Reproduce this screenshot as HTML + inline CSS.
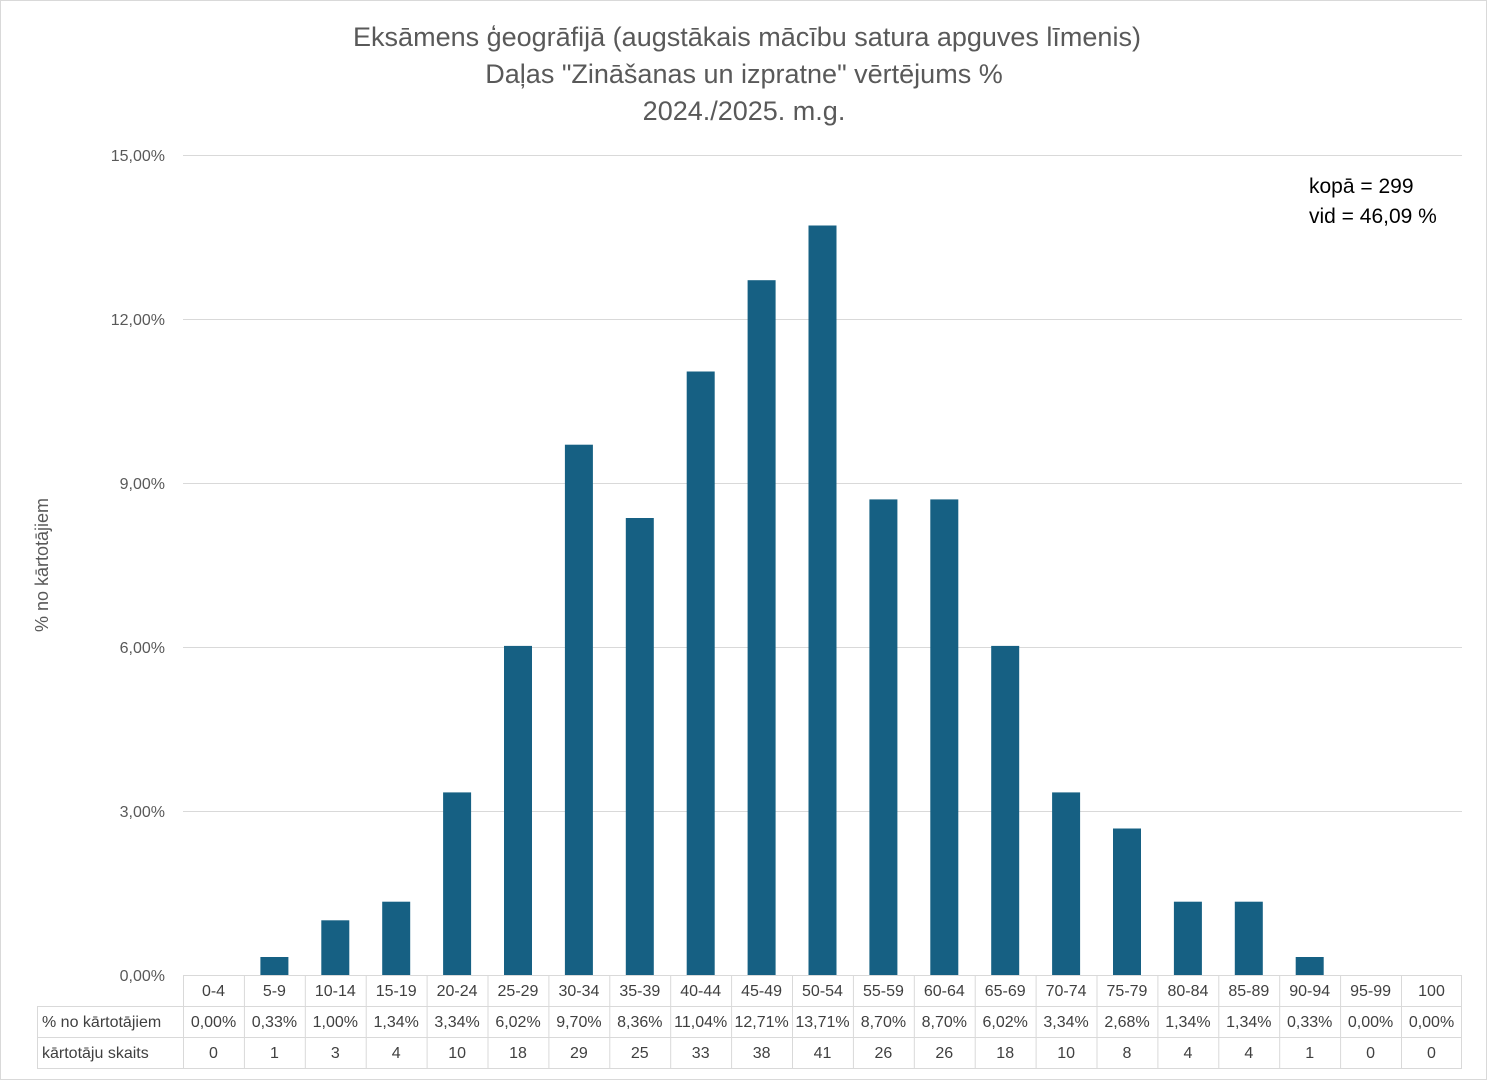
<!DOCTYPE html>
<html><head><meta charset="utf-8"><style>
html,body{margin:0;padding:0;background:#fff}
svg{display:block;font-family:"Liberation Sans",sans-serif}
</style></head><body>
<svg width="1487" height="1080" viewBox="0 0 1487 1080" xmlns="http://www.w3.org/2000/svg">
<rect x="0.5" y="0.5" width="1486" height="1079" fill="#fff" stroke="#d9d9d9"/>
<g font-size="27" fill="#595959" text-anchor="middle">
<text x="747" y="46">Eksāmens ģeogrāfijā (augstākais mācību satura apguves līmenis)</text>
<text x="744" y="83">Daļas "Zināšanas un izpratne" vērtējums %</text>
<text x="744" y="120">2024./2025. m.g.</text>
</g>
<g stroke="#d9d9d9" stroke-width="1">
<line x1="183" y1="155.5" x2="1462" y2="155.5"/>
<line x1="183" y1="319.5" x2="1462" y2="319.5"/>
<line x1="183" y1="483.5" x2="1462" y2="483.5"/>
<line x1="183" y1="647.5" x2="1462" y2="647.5"/>
<line x1="183" y1="811.5" x2="1462" y2="811.5"/>
</g>
<g font-size="16" fill="#595959" text-anchor="end">
<text x="165" y="161">15,00%</text>
<text x="165" y="325">12,00%</text>
<text x="165" y="489">9,00%</text>
<text x="165" y="653">6,00%</text>
<text x="165" y="817">3,00%</text>
<text x="165" y="981">0,00%</text>
</g>
<text transform="translate(48,565) rotate(-90)" font-size="18" fill="#595959" text-anchor="middle">% no kārtotājiem</text>
<g fill="#166083">
<rect x="260.4" y="957" width="28" height="18"/>
<rect x="321.3" y="920.3" width="28" height="54.7"/>
<rect x="382.2" y="901.7" width="28" height="73.3"/>
<rect x="443.1" y="792.4" width="28" height="182.6"/>
<rect x="504.0" y="645.9" width="28" height="329.1"/>
<rect x="564.9" y="444.7" width="28" height="530.3"/>
<rect x="625.8" y="518" width="28" height="457"/>
<rect x="686.7" y="371.5" width="28" height="603.5"/>
<rect x="747.6" y="280.2" width="28" height="694.8"/>
<rect x="808.5" y="225.5" width="28" height="749.5"/>
<rect x="869.4" y="499.4" width="28" height="475.6"/>
<rect x="930.3" y="499.4" width="28" height="475.6"/>
<rect x="991.2" y="645.9" width="28" height="329.1"/>
<rect x="1052.1" y="792.4" width="28" height="182.6"/>
<rect x="1113.0" y="828.5" width="28" height="146.5"/>
<rect x="1173.9" y="901.7" width="28" height="73.3"/>
<rect x="1234.8" y="901.7" width="28" height="73.3"/>
<rect x="1295.7" y="957" width="28" height="18"/>
</g>
<g font-size="21" fill="#000">
<text x="1309" y="193">kopā = 299</text>
<text x="1309" y="223">vid = 46,09 %</text>
</g>
<g stroke="#d9d9d9" stroke-width="1">
<line x1="183" y1="975.5" x2="1462" y2="975.5"/>
<line x1="37" y1="1006.5" x2="1462" y2="1006.5"/>
<line x1="37" y1="1037.5" x2="1462" y2="1037.5"/>
<line x1="37" y1="1068.5" x2="1462" y2="1068.5"/>
<line x1="37.5" y1="1006" x2="37.5" y2="1068"/>
<line x1="183.5" y1="975" x2="183.5" y2="1068"/>
<line x1="244.4" y1="975" x2="244.4" y2="1068"/>
<line x1="305.3" y1="975" x2="305.3" y2="1068"/>
<line x1="366.2" y1="975" x2="366.2" y2="1068"/>
<line x1="427.1" y1="975" x2="427.1" y2="1068"/>
<line x1="488.0" y1="975" x2="488.0" y2="1068"/>
<line x1="548.9" y1="975" x2="548.9" y2="1068"/>
<line x1="609.8" y1="975" x2="609.8" y2="1068"/>
<line x1="670.7" y1="975" x2="670.7" y2="1068"/>
<line x1="731.6" y1="975" x2="731.6" y2="1068"/>
<line x1="792.5" y1="975" x2="792.5" y2="1068"/>
<line x1="853.4" y1="975" x2="853.4" y2="1068"/>
<line x1="914.3" y1="975" x2="914.3" y2="1068"/>
<line x1="975.2" y1="975" x2="975.2" y2="1068"/>
<line x1="1036.1" y1="975" x2="1036.1" y2="1068"/>
<line x1="1097.0" y1="975" x2="1097.0" y2="1068"/>
<line x1="1157.9" y1="975" x2="1157.9" y2="1068"/>
<line x1="1218.8" y1="975" x2="1218.8" y2="1068"/>
<line x1="1279.7" y1="975" x2="1279.7" y2="1068"/>
<line x1="1340.6" y1="975" x2="1340.6" y2="1068"/>
<line x1="1401.5" y1="975" x2="1401.5" y2="1068"/>
<line x1="1461.5" y1="975" x2="1461.5" y2="1068"/>
</g>
<g font-size="16" fill="#404040">
<text x="42" y="1027">% no kārtotājiem</text>
<text x="42" y="1058">kārtotāju skaits</text>
</g>
<g font-size="16" fill="#404040" text-anchor="middle">
<text x="213.5" y="996">0-4</text><text x="274.4" y="996">5-9</text><text x="335.3" y="996">10-14</text><text x="396.2" y="996">15-19</text><text x="457.1" y="996">20-24</text><text x="518" y="996">25-29</text><text x="578.9" y="996">30-34</text><text x="639.8" y="996">35-39</text><text x="700.7" y="996">40-44</text><text x="761.6" y="996">45-49</text><text x="822.5" y="996">50-54</text><text x="883.4" y="996">55-59</text><text x="944.3" y="996">60-64</text><text x="1005.2" y="996">65-69</text><text x="1066.1" y="996">70-74</text><text x="1127" y="996">75-79</text><text x="1187.9" y="996">80-84</text><text x="1248.8" y="996">85-89</text><text x="1309.7" y="996">90-94</text><text x="1370.6" y="996">95-99</text><text x="1431.5" y="996">100</text>
</g>
<g font-size="16" fill="#404040" text-anchor="middle">
<text x="213.5" y="1027">0,00%</text><text x="274.4" y="1027">0,33%</text><text x="335.3" y="1027">1,00%</text><text x="396.2" y="1027">1,34%</text><text x="457.1" y="1027">3,34%</text><text x="518" y="1027">6,02%</text><text x="578.9" y="1027">9,70%</text><text x="639.8" y="1027">8,36%</text><text x="700.7" y="1027">11,04%</text><text x="761.6" y="1027">12,71%</text><text x="822.5" y="1027">13,71%</text><text x="883.4" y="1027">8,70%</text><text x="944.3" y="1027">8,70%</text><text x="1005.2" y="1027">6,02%</text><text x="1066.1" y="1027">3,34%</text><text x="1127" y="1027">2,68%</text><text x="1187.9" y="1027">1,34%</text><text x="1248.8" y="1027">1,34%</text><text x="1309.7" y="1027">0,33%</text><text x="1370.6" y="1027">0,00%</text><text x="1431.5" y="1027">0,00%</text>
</g>
<g font-size="16" fill="#404040" text-anchor="middle">
<text x="213.5" y="1058">0</text><text x="274.4" y="1058">1</text><text x="335.3" y="1058">3</text><text x="396.2" y="1058">4</text><text x="457.1" y="1058">10</text><text x="518" y="1058">18</text><text x="578.9" y="1058">29</text><text x="639.8" y="1058">25</text><text x="700.7" y="1058">33</text><text x="761.6" y="1058">38</text><text x="822.5" y="1058">41</text><text x="883.4" y="1058">26</text><text x="944.3" y="1058">26</text><text x="1005.2" y="1058">18</text><text x="1066.1" y="1058">10</text><text x="1127" y="1058">8</text><text x="1187.9" y="1058">4</text><text x="1248.8" y="1058">4</text><text x="1309.7" y="1058">1</text><text x="1370.6" y="1058">0</text><text x="1431.5" y="1058">0</text>
</g>
</svg>
</body></html>
